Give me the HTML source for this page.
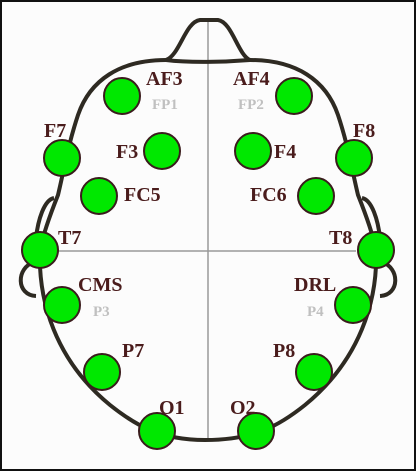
<!DOCTYPE html>
<html><head><style>
html,body{margin:0;padding:0;background:#fff}
svg{display:block}
.l{font-family:"Liberation Serif",serif;font-weight:bold;font-size:20px;fill:#4a1c1c}
.g{font-family:"Liberation Serif",serif;font-weight:bold;font-size:15px;fill:#c0c0c0}
</style></head><body>
<svg width="416" height="471" viewBox="0 0 416 471">
<rect x="1" y="1" width="414" height="469" fill="#fcfcfc" stroke="#111" stroke-width="2"/>
<line x1="208" y1="20" x2="208" y2="440" stroke="#999" stroke-width="1.5"/>
<line x1="58" y1="251" x2="356" y2="251" stroke="#999" stroke-width="1.5"/>
<g fill="none" stroke="#2e2a22" stroke-width="4">
<path d="M166,60 C180,55 185,22 200,20 L218,20 C232,22 238,55 250,60"/>
<path d="M166,60 C190,63 225,62 250,60"/>
<path d="M166,60 C120,60 90,80 78,115 C68,145 64,170 58,195 C50,215 43,235 40,250 C38,300 55,360 110,405 C135,425 160,440 205,440 C255,440 280,425 305,405 C360,360 378,300 376,250 C373,235 366,215 358,195 C352,170 348,145 338,115 C326,80 296,60 250,60"/>
<path d="M54,198 C44,200 38,220 36,238"/>
<path d="M34,262 C16,268 16,295 36,296"/>
<path d="M362,198 C372,200 378,220 380,238"/>
<path d="M382,262 C400,268 400,295 380,296"/>
</g>
<g fill="#00e800" stroke="#3a1c1c" stroke-width="2">
<circle cx="122" cy="96" r="18"/>
<circle cx="294" cy="96" r="18"/>
<circle cx="62" cy="158" r="18"/>
<circle cx="162" cy="151" r="18"/>
<circle cx="253" cy="151" r="18"/>
<circle cx="354" cy="158" r="18"/>
<circle cx="99" cy="196" r="18"/>
<circle cx="316" cy="196" r="18"/>
<circle cx="40" cy="250" r="18"/>
<circle cx="376" cy="250" r="18"/>
<circle cx="62" cy="305" r="18"/>
<circle cx="353" cy="305" r="18"/>
<circle cx="102" cy="372" r="18"/>
<circle cx="314" cy="372" r="18"/>
<circle cx="157" cy="431" r="18"/>
<circle cx="256" cy="431" r="18"/>
</g>
<g>
<text class="l" x="146" y="85">AF3</text>
<text class="l" x="233" y="85">AF4</text>
<text class="l" x="44" y="137">F7</text>
<text class="l" x="116" y="158">F3</text>
<text class="l" x="274" y="158">F4</text>
<text class="l" x="353" y="137">F8</text>
<text class="l" x="124" y="201">FC5</text>
<text class="l" x="250" y="201">FC6</text>
<text class="l" x="58" y="244">T7</text>
<text class="l" x="329" y="244">T8</text>
<text class="l" x="78" y="291">CMS</text>
<text class="l" x="294" y="291">DRL</text>
<text class="l" x="122" y="357">P7</text>
<text class="l" x="273" y="357">P8</text>
<text class="l" x="159" y="414">O1</text>
<text class="l" x="230" y="414">O2</text>
<text class="g" x="152" y="109">FP1</text>
<text class="g" x="238" y="109">FP2</text>
<text class="g" x="93" y="316">P3</text>
<text class="g" x="307" y="316">P4</text>
</g>
</svg>
</body></html>
